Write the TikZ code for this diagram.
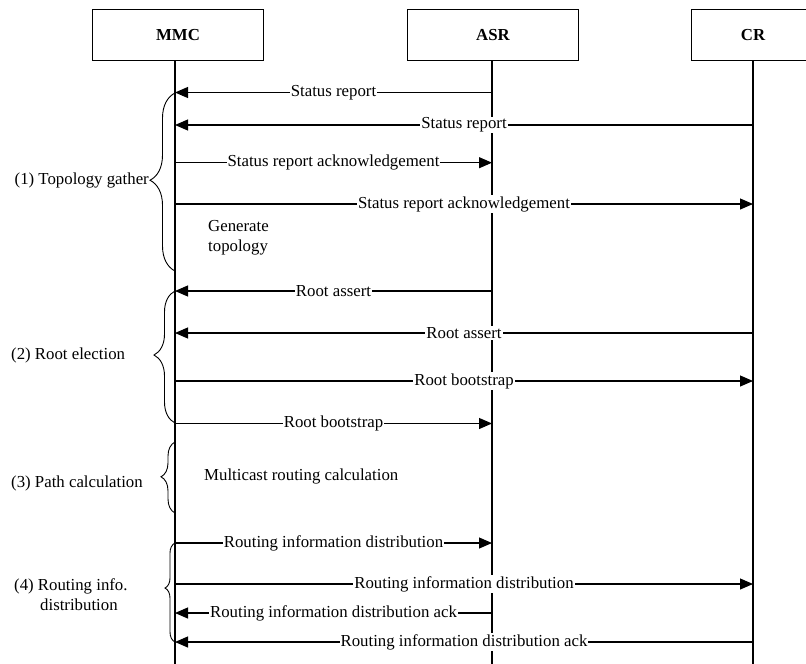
\documentclass[tikz,border=0pt]{standalone}
\usepackage{fontspec}
\setmainfont{Liberation Serif}
\usetikzlibrary{arrows.meta,decorations.pathreplacing}
\begin{document}
\begin{tikzpicture}[x=1pt,y=-1pt,
  font=\fontsize{16.8}{20}\selectfont,
  actor/.style={draw, line width=1pt, minimum width=171pt, minimum height=51.4pt, inner sep=0pt,
    font=\fontsize{16.8}{20}\selectfont\bfseries},
  life/.style={line width=1.1pt},
  msg/.style={line width=1.1pt, -{Triangle[length=13pt,width=11pt]}},
  lbl/.style={fill=white, inner sep=1pt},
  brc/.style={decorate, line width=0.9pt, decoration={brace, amplitude=#1}},
  note/.style={align=left, inner sep=0pt}]
\useasboundingbox (0,0) rectangle (806,664);
% actors
\node[actor] (mmc) at (178,35) {MMC};
\node[actor] (asr) at (493,35) {ASR};
\node[actor, minimum width=124pt] (cr)  at (753,35) {CR};
% lifelines
\coordinate (mmcL) at (175,664);
\coordinate (asrL) at (492,664);
\coordinate (crL)  at (753,664);
\draw[life] (mmc.south -| mmcL) -- (mmcL);
\draw[life] (asr.south -| asrL) -- (asrL);
\draw[life] (cr.south  -| crL)  -- (crL);
% rows
\coordinate (y1)  at (0,92.5);
\coordinate (y2)  at (0,125);
\coordinate (y3)  at (0,162.7);
\coordinate (y4)  at (0,204);
\coordinate (y5)  at (0,291);
\coordinate (y6)  at (0,333);
\coordinate (y7)  at (0,381);
\coordinate (y8)  at (0,423.5);
\coordinate (y9)  at (0,543);
\coordinate (y10) at (0,584);
\coordinate (y11) at (0,613);
\coordinate (y12) at (0,642);
% braces
\coordinate (b1t) at (0,93);  \coordinate (b1b) at (0,271);
\coordinate (b2t) at (0,291); \coordinate (b2b) at (0,423);
\coordinate (b3t) at (0,442); \coordinate (b3b) at (0,513);
\coordinate (b4t) at (0,543); \coordinate (b4b) at (0,642);
\draw[brc=25pt, decoration={aspect=0.51}] (mmcL |- b1b) -- (mmcL |- b1t);
\draw[brc=21pt, decoration={aspect=0.515}] (mmcL |- b2b) -- (mmcL |- b2t);
\draw[brc=14pt, decoration={aspect=0.51}] (mmcL |- b3b) -- (mmcL |- b3t);
\draw[brc=10pt, decoration={aspect=0.545}] (mmcL |- b4b) -- (mmcL |- b4t);
% phase labels
\node[inner sep=0pt, anchor=east] (p1) at (149,180) {(1) Topology gather};
\node[inner sep=0pt, anchor=west] (p2) at (11,355) {(2) Root election};
\node[inner sep=0pt, anchor=west] (p3) at (11,483) {(3) Path calculation};
\node[inner sep=0pt, align=left, anchor=west] (p4) at (14,595) {(4) Routing info.\\\hspace*{26pt}distribution};
% notes
\node[note, anchor=west] (n1) at (208,238) {Generate\\topology};
\node[note, anchor=west] (n2) at (204,476) {Multicast routing calculation};
% messages
\draw[msg] (asrL |- y1) -- node[lbl]{Status report} (mmcL |- y1);
\draw[msg] (crL |- y2) -- node[lbl]{Status report} (mmcL |- y2);
\draw[msg] (mmcL |- y3) -- node[lbl]{Status report acknowledgement} (asrL |- y3);
\draw[msg] (mmcL |- y4) -- node[lbl]{Status report acknowledgement} (crL |- y4);
\draw[msg] (asrL |- y5) -- node[lbl]{Root assert} (mmcL |- y5);
\draw[msg] (crL |- y6) -- node[lbl]{Root assert} (mmcL |- y6);
\draw[msg] (mmcL |- y7) -- node[lbl]{Root bootstrap} (crL |- y7);
\draw[msg] (mmcL |- y8) -- node[lbl]{Root bootstrap} (asrL |- y8);
\draw[msg] (mmcL |- y9) -- node[lbl]{Routing information distribution} (asrL |- y9);
\draw[msg] (mmcL |- y10) -- node[lbl]{Routing information distribution} (crL |- y10);
\draw[msg] (asrL |- y11) -- node[lbl]{Routing information distribution ack} (mmcL |- y11);
\draw[msg] (crL |- y12) -- node[lbl]{Routing information distribution ack} (mmcL |- y12);
\end{tikzpicture}
\end{document}
